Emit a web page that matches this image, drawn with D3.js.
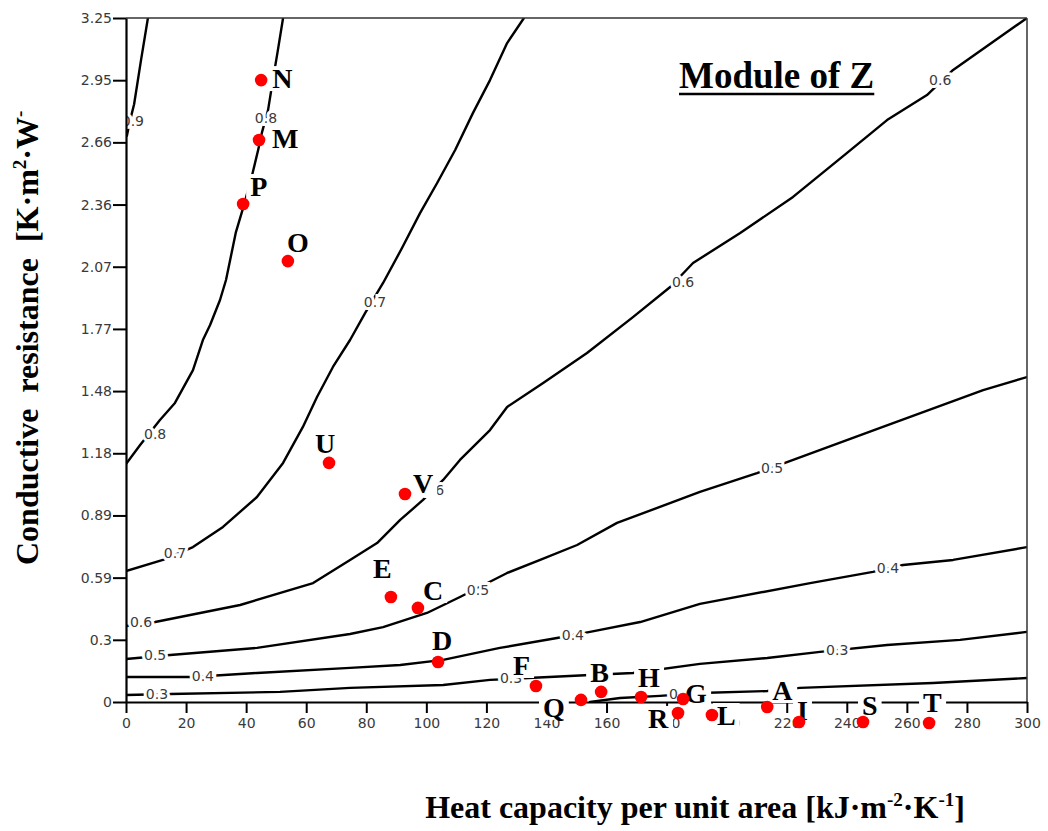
<!DOCTYPE html>
<html>
<head>
<meta charset="utf-8">
<script src="https://cdn.jsdelivr.net/npm/d3@7"></script>
<style>
  html, body { margin: 0; padding: 0; background: #fff; }
  svg { display: block; }
  .tick text { font-family: "DejaVu Sans", sans-serif; font-size: 14px; fill: #3a3a3a; }
  .serif { font-family: "Liberation Serif", "Times New Roman", serif; font-weight: bold; }
</style>
</head>
<body>
<svg id="chart" width="1048" height="831"></svg>
<script>
// ---------------- DATA ----------------
const xTickValues = [0, 20, 40, 60, 80, 100, 120, 140, 160, 180, 200, 220, 240, 260, 280, 300];
const xTickLabels = ["0","20","40","60","80","100","120","140","160","180","200","220","240","260","280","300"];
const yTickValues = [0, 0.2955, 0.5909, 0.8864, 1.1818, 1.4773, 1.7727, 2.0682, 2.3636, 2.6591, 2.9545, 3.25];
const yTickLabels = ["0","0.3","0.59","0.89","1.18","1.48","1.77","2.07","2.36","2.66","2.95","3.25"];

// contour lines of |Z| : [heat capacity, conductive resistance]
const contour09 = [[7.3,3.25],[5.0,3.05],[2.7,2.84],[1.3,2.76],[0.3,2.69]];
const contour08 = [[52.3,3.25],[50.6,3.10],[48.9,2.955],[47.3,2.812],[45.3,2.708],[44.0,2.623],[42.0,2.504],
  [39.3,2.362],[36.6,2.233],[33.3,2.005],[31.3,1.910],[28.0,1.791],[25.6,1.720],[22.3,1.577],[16.3,1.421],
  [11.3,1.340],[4.7,1.221],[0,1.131]];
const contour07 = [[132.5,3.25],[126.9,3.131],[121.2,2.955],[115.5,2.798],[109.6,2.623],[103.6,2.466],[97.9,2.323],
  [91.9,2.157],[85.6,1.991],[79.6,1.848],[74.6,1.720],[68.9,1.592],[63.6,1.449],[58.9,1.307],[52.3,1.136],
  [43.6,0.974],[32.3,0.832],[22.3,0.736],[12.3,0.675],[0,0.622]];
const contour06 = [[300,3.25],[275.4,3.003],[266.7,2.884],[253.4,2.765],[240.1,2.609],[222.1,2.400],[204.5,2.228],
  [188.8,2.086],[181.2,1.972],[168.8,1.829],[153.5,1.658],[138.9,1.516],[126.9,1.402],[121.2,1.292],[111.2,1.150],
  [105.6,1.055],[98.9,0.960],[91.3,0.865],[83.6,0.755],[74.6,0.675],[62.3,0.565],[38.0,0.461],[9.7,0.380],[0,0.361]];
const contour05 = [[300,1.544],[285.4,1.482],[251.1,1.302],[220.1,1.140],[210.1,1.088],[191.1,0.998],[163.5,0.851],
  [150.2,0.746],[137.9,0.675],[126.9,0.613],[111.2,0.499],[100.2,0.423],[85.6,0.356],[74.6,0.323],[43.6,0.257],
  [14.7,0.223],[0,0.204]];
const contour04 = [[300,0.736],[275.4,0.675],[258.7,0.651],[248.7,0.618],[227.8,0.565],[191.1,0.466],[171.2,0.380],
  [154.5,0.333],[143.5,0.304],[124.5,0.257],[105.6,0.200],[91.3,0.176],[74.6,0.162],[43.6,0.138],[22.0,0.119],[0,0.119]];
const contour03 = [[300,0.333],[277.7,0.295],[253.4,0.271],[231.1,0.238],[213.5,0.209],[191.1,0.181],[168.8,0.138],
  [154.5,0.128],[121.2,0.105],[105.6,0.081],[74.6,0.067],[51.3,0.048],[14.7,0.038],[0,0.033]];
const contour02 = [[300,0.114],[268.7,0.090],[224.4,0.067],[213.5,0.052],[191.1,0.043],[177.8,0.029],[164.5,0.019],[154.5,0]];
const contours = [contour09, contour08, contour07, contour06, contour05, contour04, contour03, contour02];

// contour labels: [text, heat capacity, resistance]
const contourLabelText = ["0.9","0.8","0.8","0.7","0.7","0.6","0.6","0.6","0.6","0.5","0.5","0.5","0.4","0.4","0.4","0.3","0.3","0.3","0.2"];
const contourLabelX    = [2.3, 46.6, 9.7, 82.9, 16.3, 271.1, 185.5, 102.2, 5.0, 215.1, 117.2, 9.7, 253.7, 148.8, 25.6, 236.8, 128.2, 10.3, 184.5];
const contourLabelY    = [2.76, 2.775, 1.273, 1.901, 0.708, 2.955, 1.996, 1.007, 0.380, 1.112, 0.532, 0.223, 0.637, 0.318, 0.124, 0.247, 0.114, 0.038, 0.038];

// building cases
const caseNames = ["N","M","P","O","U","V","E","C","D","F","B","H","Q","G","R","L","A","I","S","T"];
const caseHeat  = [45.0, 44.3, 39.0, 53.9, 67.6, 92.9, 88.2, 97.2, 103.9, 136.5, 158.2, 171.5, 151.5, 185.5, 183.8, 195.1, 213.5, 224.1, 245.4, 267.4];
const caseRes   = [2.955, 2.670, 2.366, 2.095, 1.136, 0.988, 0.499, 0.447, 0.190, 0.076, 0.048, 0.024, 0.010, 0.014, -0.052, -0.062, -0.024, -0.095, -0.095, -0.100];

// ---------------- STYLE / LAYOUT ----------------
const labelOffset = { // pixel offsets of letter (start, baseline) from dot
  N:[11,8], M:[13,8], P:[7,-8], O:[-1,-9], U:[-14,-10], V:[8,-1], E:[-18,-19], C:[5,-8], D:[-6,-12],
  F:[-23,-11], B:[-11,-10], H:[-3,-10], Q:[-38,17], G:[2,4], R:[-30,15], L:[5,10], A:[5,-7], I:[-2,-2], S:[-1,-7], T:[-6,-11]
};
const plot = { left: 126, right: 1027, top: 18, bottom: 702 };

const svg = d3.select("#chart");
const x = d3.scaleLinear().domain([0, 300]).range([plot.left, plot.right]);
const y = d3.scaleLinear().domain([0, 3.25]).range([plot.bottom, plot.top]);

svg.append("defs").append("clipPath").attr("id", "clip")
  .append("rect").attr("x", plot.left).attr("y", plot.top)
  .attr("width", plot.right - plot.left).attr("height", plot.bottom - plot.top);

const gC = svg.append("g").attr("clip-path", "url(#clip)");
const line = d3.line().x(d => x(d[0])).y(d => y(d[1])).curve(d3.curveLinear);
gC.selectAll("path.contour").data(contours).join("path")
  .attr("class", "contour").attr("d", line)
  .attr("fill", "none").attr("stroke", "#000").attr("stroke-width", 2.4)
  .attr("stroke-linejoin", "round").attr("stroke-linecap", "round");

gC.selectAll("text.clabel").data(contourLabelText).join("text")
  .attr("class", "clabel")
  .attr("x", (d, i) => x(contourLabelX[i]))
  .attr("y", (d, i) => y(contourLabelY[i]))
  .attr("dy", "0.36em")
  .attr("text-anchor", "middle")
  .attr("font-family", "DejaVu Sans, sans-serif").attr("font-size", 14)
  .attr("fill", "#3a3a3a")
  .attr("stroke", "#fff").attr("stroke-width", 6).attr("paint-order", "stroke")
  .text(d => d);

// borders
svg.append("line").attr("x1", plot.left).attr("x2", plot.right).attr("y1", plot.top).attr("y2", plot.top)
  .attr("stroke", "#333").attr("stroke-width", 1.5);
svg.append("line").attr("x1", plot.right).attr("x2", plot.right).attr("y1", plot.top).attr("y2", plot.bottom)
  .attr("stroke", "#333").attr("stroke-width", 1.5);

// axes
const xAxis = d3.axisBottom(x).tickValues(xTickValues).tickFormat((d, i) => xTickLabels[i])
  .tickSize(11).tickSizeOuter(0).tickPadding(5);
const yAxis = d3.axisLeft(y).tickValues(yTickValues).tickFormat((d, i) => yTickLabels[i])
  .tickSize(13).tickSizeOuter(0).tickPadding(1);
const gx = svg.append("g").attr("transform", `translate(0,${plot.bottom})`).call(xAxis);
const gy = svg.append("g").attr("transform", `translate(${plot.left},0)`).call(yAxis);
[gx, gy].forEach(g => {
  g.select(".domain").attr("stroke", "#000").attr("stroke-width", 2.2);
  g.selectAll(".tick line").attr("stroke", "#000").attr("stroke-width", 2);
  g.selectAll(".tick text").attr("font-family", null).attr("font-size", null);
});

// title
const title = svg.append("text").attr("class", "serif")
  .attr("x", 679).attr("y", 88).attr("font-size", 37).attr("fill", "#000").text("Module of Z");
const tb = title.node().getBBox();
svg.append("line").attr("x1", tb.x).attr("x2", tb.x + tb.width).attr("y1", 94).attr("y2", 94)
  .attr("stroke", "#000").attr("stroke-width", 2.5);

// axis titles
const xt = svg.append("text").attr("class", "serif").attr("x", 695).attr("y", 818)
  .attr("text-anchor", "middle").attr("font-size", 32).attr("fill", "#000");
xt.append("tspan").text("Heat capacity per unit area [kJ·m");
xt.append("tspan").attr("font-size", 19).attr("dy", -12).text("-2");
xt.append("tspan").attr("dy", 12).text("·K");
xt.append("tspan").attr("font-size", 19).attr("dy", -12).text("-1");
xt.append("tspan").attr("dy", 12).text("]");

const yt = svg.append("text").attr("class", "serif")
  .attr("transform", "translate(38,565) rotate(-90)")
  .attr("x", 0).attr("y", 0).attr("font-size", 32).attr("fill", "#000")
  .style("white-space", "pre");
yt.append("tspan").text("Conductive  resistance  [K·m");
yt.append("tspan").attr("font-size", 19).attr("dy", -12).text("2");
yt.append("tspan").attr("dy", 12).text("·W");
yt.append("tspan").attr("font-size", 19).attr("dy", -12).text("-");

// case labels with white boxes
const gL = svg.append("g");
caseNames.forEach((n, i) => {
  const off = labelOffset[n];
  const g = gL.append("g");
  const t = g.append("text").attr("class", "serif")
    .attr("x", x(caseHeat[i]) + off[0]).attr("y", y(caseRes[i]) + off[1])
    .attr("font-size", 28).attr("fill", "#000").text(n);
  const b = t.node().getBBox();
  g.insert("rect", "text").attr("x", b.x - 4).attr("y", b.y + 3)
    .attr("width", b.width + 8).attr("height", b.height - 6).attr("fill", "#fff");
});

// dots
svg.append("g").selectAll("circle").data(caseNames).join("circle")
  .attr("cx", (d, i) => x(caseHeat[i])).attr("cy", (d, i) => y(caseRes[i]))
  .attr("r", 6.3).attr("fill", "#ff0000");
</script>
</body>
</html>
